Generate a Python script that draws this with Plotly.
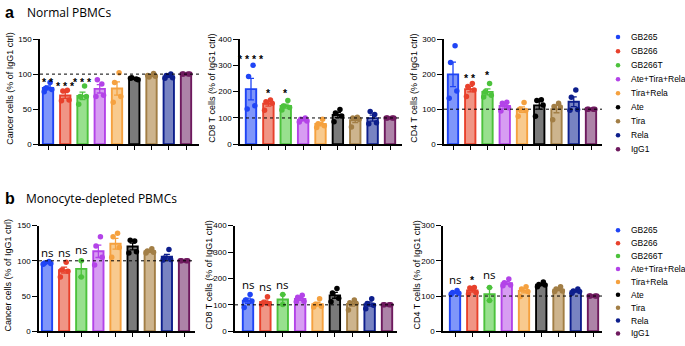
import numpy as np
import plotly.graph_objects as go

W, H = 685, 346

# ---------------- data ----------------
groups = ["GB265", "GB266", "GB266T", "Ate+Tira+Rela", "Tira+Rela", "Ate", "Tira", "Rela", "IgG1"]

a_cancer = [[88, 80, 78, 75], [77, 76, 63, 62], [83, 68, 68, 57], [86, 92, 70, 68],
            [102, 88, 68, 60], [93, 95, 92, 94], [101, 96, 97, 98], [100, 98, 95, 94],
            [100, 100, 100, 100]]
a_cd8 = [[300, 258, 146, 134], [168, 162, 156, 129], [166, 145, 140, 130], [100, 95, 88, 85],
         [95, 78, 70, 64], [132, 119, 107, 86], [103, 100, 95, 66], [113, 125, 82, 78],
         [100, 100, 100, 100]]
a_cd4 = [[281, 233, 152, 131], [173, 165, 155, 136], [173, 150, 140, 135], [120, 117, 104, 95],
         [119, 100, 96, 80], [127, 125, 112, 80], [117, 108, 106, 70], [155, 134, 99, 97],
         [100, 100, 100, 100]]
b_cancer = [[99, 97, 96, 95], [98, 87, 85, 77], [100, 77], [134, 121, 105, 94],
            [139, 134, 119, 105], [128, 129, 113, 111], [117, 114, 112, 111], [116, 104, 102, 101],
            [100, 100, 100, 100]]
b_cd8 = [[139, 118, 115, 90], [131, 108, 104, 101], [139, 101], [136, 129, 114, 112],
         [123, 101, 95, 92], [162, 145, 125, 112], [118, 108, 106, 80], [123, 105, 98, 85],
         [100, 100, 100, 100]]
b_cd4 = [[116, 110, 108, 105], [124, 123, 110, 106], [124, 87], [148, 138, 131, 129],
         [126, 120, 113, 99], [140, 133, 131, 126], [126, 120, 114, 113], [120, 114, 113, 108],
         [100, 100, 100, 100]]

sig_a_cancer = ["* *", "* * *", "* * *"]
sig_a_cd8 = ["* * * *", "*", "*"]
sig_a_cd4 = ["* * * *", "* *", "*"]
sig_b_cancer = ["ns", "ns", "ns"]
sig_b_cd8 = ["ns", "ns", "ns"]
sig_b_cd4 = ["ns", "*", "ns"]

cancer_ticks = [0, 50, 100, 150]
cd8_ticks = [0, 100, 200, 300, 400]
cd4_ticks = [0, 100, 200, 300]

# ---------------- styles ----------------
edge = ["#1f44f5", "#e8412c", "#4cc23c", "#b343e8", "#f5a13f", "#000000", "#a27e45", "#0d1e8c", "#6e1a5e"]
fill = ["#7f96fa", "#f09585", "#98e08e", "#d79df2", "#f8ca8e", "#7a7a7a", "#cdb48d", "#7883c2", "#ad83a8"]
jit4 = [0.12, -0.14, 0.22, -0.22]
jit2 = [0.0, 0.0]

def X(p):
    return p / W

def Y(p):
    return 1 - p / H

def names(k):
    s = "" if k == 1 else str(k)
    return "x" + s, "y" + s, "xaxis" + s, "yaxis" + s

panels = [
    dict(d=a_cancer, t=cancer_ticks, s=sig_a_cancer, sy=[93, 88, 93], x0=40, x1=199, f=48, l=186,
         top=36, bot=144, title="Cancer cells (% of IgG1 ctrl)", tx=10),
    dict(d=a_cd8, t=cd8_ticks, s=sig_a_cd8, sy=[335, 205, 205], x0=240, x1=402, f=251, l=390,
         top=36, bot=144, title="CD8 T cells (% of IgG1 ctrl)", tx=212),
    dict(d=a_cd4, t=cd4_ticks, s=sig_a_cd4, sy=[306, 198, 206], x0=444, x1=602, f=453, l=591,
         top=36, bot=144, title="CD4 T cells (% of IgG1 ctrl)", tx=414),
    dict(d=b_cancer, t=cancer_ticks, s=sig_b_cancer, sy=[112, 112, 116], x0=39, x1=195, f=47, l=184,
         top=227.5, bot=336, title="Cancer cells (% of IgG1 ctrl)", tx=8),
    dict(d=b_cd8, t=cd8_ticks, s=sig_b_cd8, sy=[177, 170, 177], x0=235, x1=397, f=248, l=387,
         top=227.5, bot=336, title="CD8 T cells (% of IgG1 ctrl)", tx=209),
    dict(d=b_cd4, t=cd4_ticks, s=sig_b_cd4, sy=[146, 155, 160], x0=443, x1=602, f=455, l=593,
         top=227.5, bot=336, title="CD4 T cells (% of IgG1 ctrl)", tx=417),
]

fig = go.Figure()
annotations = []
shapes = []
layout = {}
FONT = "Liberation Sans, Arial, sans-serif"

for k, p in enumerate(panels, start=1):
    xa, ya, xk, yk = names(k)
    sp = (p["l"] - p["f"]) / 8
    xr = [(p["x0"] - p["f"]) / sp, 8 + (p["x1"] - p["l"]) / sp]
    layout[xk] = dict(domain=[X(p["x0"]), X(p["x1"])], range=xr, anchor=ya,
                      showline=True, linecolor="black", linewidth=1.6,
                      ticks="outside", tickvals=list(range(9)), ticklen=4, tickwidth=1.2,
                      tickcolor="black", showticklabels=False, showgrid=False, zeroline=False)
    layout[yk] = dict(domain=[Y(p["bot"]), Y(p["top"])], range=[0, p["t"][-1]], anchor=xa,
                      showline=True, linecolor="black", linewidth=1.6,
                      ticks="outside", tickvals=p["t"], ticklen=5, tickwidth=1.2,
                      tickcolor="black", tickfont=dict(size=8, color="black", family=FONT),
                      showgrid=False, zeroline=False)
    for i, vals in enumerate(p["d"]):
        v = np.array(vals, dtype=float)
        m = float(v.mean())
        sem = float(v.std(ddof=1) / np.sqrt(len(v)))
        fig.add_trace(go.Bar(x=[i], y=[m], width=0.6, xaxis=xa, yaxis=ya,
                             marker=dict(color=fill[i], line=dict(color=edge[i], width=1.9)),
                             error_y=dict(type="data", array=[sem], visible=bool(sem > 0),
                                          color=edge[i], thickness=1.3, width=3),
                             showlegend=False, hoverinfo="skip"))
    for i, vals in enumerate(p["d"]):
        jit = jit4 if len(vals) == 4 else jit2
        fig.add_trace(go.Scatter(x=[i + jit[j] for j in range(len(vals))], y=vals, mode="markers",
                                 xaxis=xa, yaxis=ya, cliponaxis=False,
                                 marker=dict(color=edge[i], size=5.5, line=dict(width=0)),
                                 showlegend=False, hoverinfo="skip"))
    shapes.append(dict(type="line", xref=f"{xa} domain", x0=0, x1=1, yref=ya, y0=100, y1=100,
                       line=dict(color="black", width=1, dash="dot"), layer="above"))
    for i, (txt, sy) in enumerate(zip(p["s"], p["sy"])):
        is_ns = txt == "ns"
        annotations.append(dict(x=i, y=sy, xref=xa, yref=ya,
                                text=txt if is_ns else f"<b>{txt}</b>", showarrow=False,
                                xanchor="center", yanchor="middle", yshift=0 if is_ns else -3,
                                font=dict(size=11.5 if is_ns else 10.5, color="black",
                                          family="Open Sans, sans-serif" if is_ns else FONT)))
    annotations.append(dict(x=X(p["tx"]), y=Y((p["top"] + p["bot"]) / 2 - 3), xref="paper", yref="paper",
                            text=p["title"], textangle=-90, showarrow=False,
                            xanchor="center", yanchor="middle",
                            font=dict(size=9, color="black", family=FONT)))

# legends
leg = [(7, 34.0, 14.4), (8, 232.3, 13.25)]
for k, top, step in leg:
    xa, ya, xk, yk = names(k)
    bottom = top + 8 * step
    layout[xk] = dict(domain=[X(612), X(624)], range=[-1, 1], visible=False, anchor=ya)
    layout[yk] = dict(domain=[Y(bottom), Y(top)], range=[8, 0], visible=False, anchor=xa)
    fig.add_trace(go.Scatter(x=[0] * len(groups), y=list(range(len(groups))), mode="markers",
                             xaxis=xa, yaxis=ya, cliponaxis=False,
                             marker=dict(color=edge, size=4.5), showlegend=False, hoverinfo="skip"))
    for i, g in enumerate(groups):
        annotations.append(dict(x=X(629), y=i, xref="paper", yref=ya, text=g, showarrow=False,
                                xanchor="left", yanchor="middle",
                                font=dict(size=8.5, color="black", family=FONT)))

# panel headers
for lab, txt, py, tx_w in [("a", "Normal PBMCs", 9, 25), ("b", "Monocyte-depleted PBMCs", 200, 24)]:
    annotations.append(dict(x=X(3), y=Y(py), xref="paper", yref="paper", text=f"<b>{lab}</b>",
                            showarrow=False, xanchor="left", yanchor="middle",
                            font=dict(size=16, color="black", family=FONT)))
    annotations.append(dict(x=X(tx_w), y=Y(py), xref="paper", yref="paper", text=txt,
                            showarrow=False, xanchor="left", yanchor="middle",
                            font=dict(size=12, color="black", family="Open Sans, sans-serif")))

fig.update_layout(width=W, height=H, margin=dict(l=0, r=0, t=0, b=0),
                  paper_bgcolor="white", plot_bgcolor="white", barmode="overlay",
                  showlegend=False, annotations=annotations, shapes=shapes, **layout)

fig.write_html("out.html", config={"displayModeBar": False},
               post_script="document.body.style.margin='0';document.body.style.overflow='hidden';")
